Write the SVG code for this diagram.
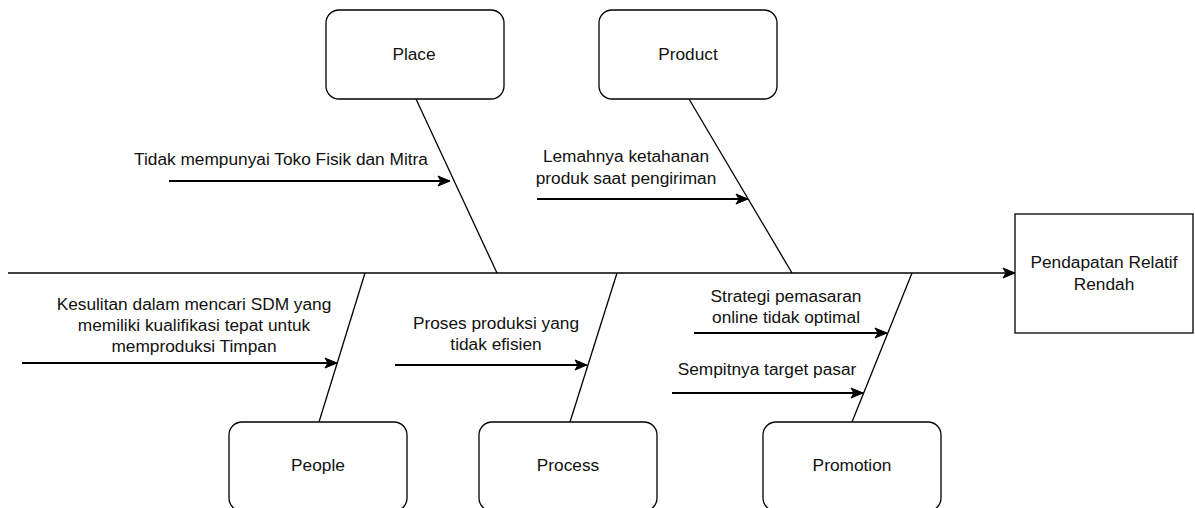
<svg xmlns="http://www.w3.org/2000/svg" width="1195" height="508" viewBox="0 0 1195 508">
<defs>
<marker id="arr" markerUnits="userSpaceOnUse" markerWidth="14" markerHeight="12" viewBox="0 0 14 12" refX="13" refY="6" orient="auto">
<path d="M1,1 L13,6 L1,11 L4,6 Z" fill="#000" stroke="#000" stroke-width="1"/>
</marker>
<style>
.box{fill:#fff;stroke:#000;stroke-width:1.3}
.bone{stroke:#000;stroke-width:1.3;fill:none}
.cause{stroke:#000;stroke-width:2;fill:none}
text{font-family:"Liberation Sans",Arial,sans-serif;font-size:17.3px;fill:#111;text-anchor:middle}
</style>
</defs>
<rect width="1195" height="508" fill="#fff"/>
<g id="connectors">
<line class="bone" x1="8" y1="273" x2="1015" y2="273" marker-end="url(#arr)"/>
<line class="bone" x1="416" y1="99" x2="497" y2="273"/>
<line class="bone" x1="689" y1="99" x2="792" y2="273"/>
<line class="bone" x1="365" y1="273" x2="319" y2="422"/>
<line class="bone" x1="617" y1="273" x2="570" y2="422"/>
<line class="bone" x1="912" y1="273" x2="852" y2="422"/>
<line class="cause" x1="169" y1="181" x2="450" y2="181" marker-end="url(#arr)"/>
<line class="cause" x1="537" y1="199" x2="748" y2="199" marker-end="url(#arr)"/>
<line class="cause" x1="22" y1="363" x2="337" y2="363" marker-end="url(#arr)"/>
<line class="cause" x1="395" y1="365" x2="587" y2="365" marker-end="url(#arr)"/>
<line class="cause" x1="694" y1="333" x2="887" y2="333" marker-end="url(#arr)"/>
<line class="cause" x1="672" y1="393" x2="863" y2="393" marker-end="url(#arr)"/>
</g>
<g id="place"><rect class="box" x="326" y="10" width="178" height="89" rx="13"/><text x="414" y="60">Place</text></g>
<g id="product"><rect class="box" x="599" y="10" width="178" height="89" rx="13"/><text x="688" y="60">Product</text></g>
<g id="people"><rect class="box" x="229" y="422" width="178" height="89" rx="13"/><text x="318" y="471">People</text></g>
<g id="process"><rect class="box" x="479" y="422" width="178" height="89" rx="13"/><text x="568" y="471">Process</text></g>
<g id="promotion"><rect class="box" x="763" y="422" width="178" height="89" rx="13"/><text x="852" y="471">Promotion</text></g>
<g id="result"><rect class="box" x="1015" y="214" width="178" height="119"/><text x="1104" y="268">Pendapatan Relatif</text><text x="1104" y="290">Rendah</text></g>
<g id="labels">
<text x="281" y="165">Tidak mempunyai Toko Fisik dan Mitra</text>
<text x="626" y="162">Lemahnya ketahanan</text>
<text x="626" y="184">produk saat pengiriman</text>
<text x="194" y="310">Kesulitan dalam mencari SDM yang</text>
<text x="194" y="331">memiliki kualifikasi tepat untuk</text>
<text x="194" y="352">memproduksi Timpan</text>
<text x="496" y="329">Proses produksi yang</text>
<text x="496" y="350">tidak efisien</text>
<text x="786" y="302">Strategi pemasaran</text>
<text x="786" y="323">online tidak optimal</text>
<text x="767" y="375">Sempitnya target pasar</text>
</g>
</svg>
